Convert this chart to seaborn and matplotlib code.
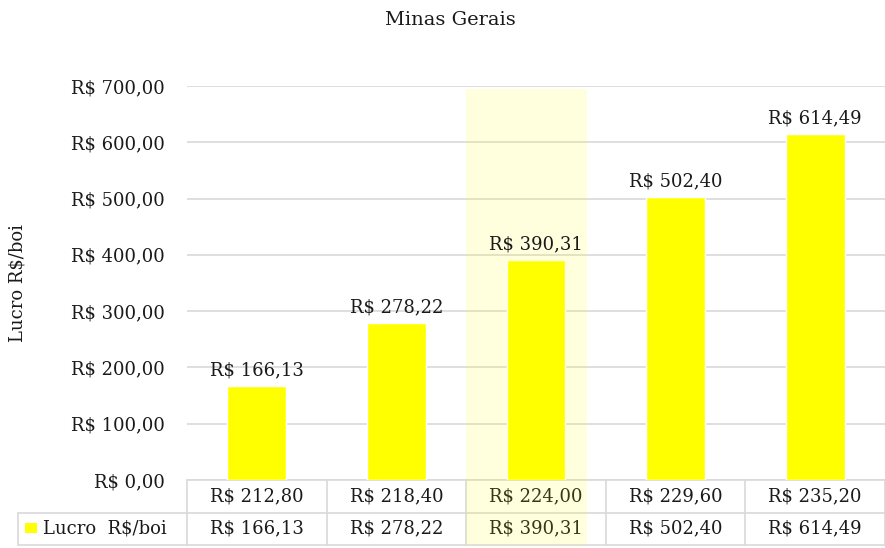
import matplotlib
matplotlib.use("Agg")
import matplotlib.pyplot as plt
import matplotlib.transforms as mtransforms
from matplotlib.patches import Rectangle
from matplotlib.lines import Line2D
import seaborn as sns
import pandas as pd

# Selling price scenarios (R$/@) and resulting profit per head
precos = ["R$ 212,80", "R$ 218,40", "R$ 224,00", "R$ 229,60", "R$ 235,20"]
lucro = [166.13, 278.22, 390.31, 502.40, 614.49]
serie = "Lucro  R$/boi"
titulo = "Minas Gerais"
eixo_y = "Lucro R$/boi"
yticks = [0, 100, 200, 300, 400, 500, 600, 700]


def brl(v):
    s = f"{v:,.2f}".replace(",", "X").replace(".", ",").replace("X", ".")
    return f"R$ {s}"


df = pd.DataFrame({"preco": precos, "lucro": lucro})

sns.set_style("white")
plt.rcParams["font.family"] = ["DejaVu Serif"]
FS = 13
TXT = "#1a1a1a"

W, H = 885, 548
fig = plt.figure(figsize=(W / 100, H / 100), dpi=100)
x0, x1, ytop, ybot = 187, 885, 86, 480
ax = fig.add_axes([x0 / W, (H - ybot) / H, (x1 - x0) / W, (ybot - ytop) / H])

sns.barplot(data=df, x="preco", y="lucro", color="#FFFF00", saturation=1,
            width=0.42, ax=ax, zorder=3)

ax.set_ylim(0, 700)
ax.set_xlim(-0.5, len(precos) - 0.5)
ax.set_yticks(yticks)
ax.set_yticklabels([brl(v) for v in yticks], fontsize=FS, color=TXT)
ax.tick_params(axis="y", length=0, pad=16)
ax.set_xticks([])
ax.set_xlabel("")
ax.set_ylabel("")
ax.grid(axis="y", color="#D9D9D9", linewidth=1.2, zorder=0)
ax.set_axisbelow(True)
for sp in ax.spines.values():
    sp.set_visible(False)

# value labels above bars
for i, v in enumerate(lucro):
    ax.text(i, v + 12, brl(v), ha="center", va="bottom", fontsize=FS,
            color=TXT, zorder=5)

# highlighted scenario band (extends into the data table)
row_h = 32.5 / (ybot - ytop)
band_w = 121 / ((x1 - x0) / len(precos))
ax.add_patch(Rectangle((1.5, -2 * row_h * 700), band_w, 695 + 2 * row_h * 700,
                       facecolor="#FFFF00", alpha=0.13, edgecolor="none",
                       zorder=4, clip_on=False))

# data table under the axis
trans = mtransforms.blended_transform_factory(ax.transData, ax.transAxes)
gcol = "#D9D9D9"
for k in range(len(precos) + 1):
    ax.add_line(Line2D([k - 0.5, k - 0.5], [0, -2 * row_h], transform=trans,
                       color=gcol, lw=1.2, clip_on=False))
for yy in (0, -row_h, -2 * row_h):
    ax.add_line(Line2D([-0.5, len(precos) - 0.5], [yy, yy], transform=trans,
                       color=gcol, lw=1.2, clip_on=False))
for i in range(len(precos)):
    ax.text(i, -0.5 * row_h, precos[i], transform=trans, ha="center",
            va="center", fontsize=FS, color=TXT)
    ax.text(i, -1.5 * row_h, brl(lucro[i]), transform=trans, ha="center",
            va="center", fontsize=FS, color=TXT)

# legend cell on the left of the second row
fy = lambda py: (H - py) / H
lx0 = 18 / W
for yy in (ybot + 32.5, ybot + 65):
    fig.add_artist(Line2D([lx0, x0 / W], [fy(yy), fy(yy)], color=gcol, lw=1.2))
fig.add_artist(Line2D([lx0, lx0], [fy(ybot + 32.5), fy(ybot + 65)], color=gcol, lw=1.2))
fig.add_artist(Rectangle((25 / W, fy(533)), 12 / W, 10 / H, facecolor="#FFFF00",
                         edgecolor="none", transform=fig.transFigure))
fig.text(43 / W, fy(ybot + 48), serie, ha="left", va="center", fontsize=FS,
         color=TXT)

# axis title and chart title
fig.text(18 / W, fy(283), eixo_y, rotation=90, ha="center", va="center",
         fontsize=FS, color=TXT)
fig.text(450 / W, fy(20), titulo, ha="center", va="center", fontsize=14,
         color=TXT)

fig.savefig("out.png", dpi=100)
